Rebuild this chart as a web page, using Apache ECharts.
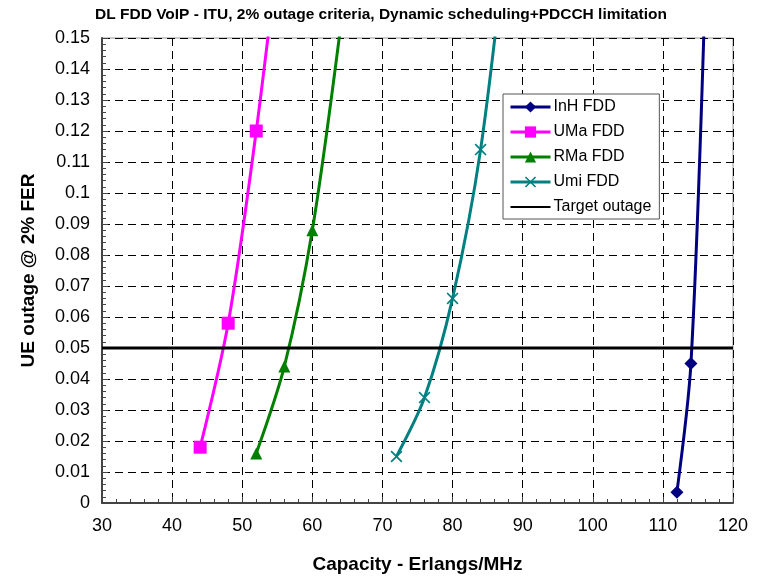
<!DOCTYPE html>
<html>
<head>
<meta charset="utf-8">
<script src="https://cdn.jsdelivr.net/npm/echarts@6/dist/echarts.min.js"></script>
<style>
  html, body { margin: 0; padding: 0; background: #fff; }
  #chart { width: 762px; height: 577px; }
</style>
</head>
<body>
<div id="chart"></div>
<script>
// values (last point of each curve sits above the 0.15 top and is clipped)
var inhX = [112, 114, 116];
var inhY = [0.0035, 0.045, 0.163];
var umaX = [44, 48, 52, 56];
var umaY = [0.018, 0.058, 0.12, 0.195];
var rmaX = [52, 56, 60, 64];
var rmaY = [0.016, 0.044, 0.088, 0.153];
var umiX = [72, 76, 80, 84, 88];
var umiY = [0.015, 0.034, 0.066, 0.114, 0.19];
var targetX = [30, 120];
var targetY = [0.05, 0.05];

function pairs(xs, ys) {
    return xs.map(function (x, i) { return [x, ys[i]]; });
}

var crossPath = 'path://M0,1L1,0L5,4L9,0L10,1L6,5L10,9L9,10L5,6L1,10L0,9L4,5Z';
var font = 'Arial, "Liberation Sans", sans-serif';

function curve(name, xs, ys, color, symbol, size) {
    return {
        name: name,
        type: 'line',
        data: pairs(xs, ys),
        smooth: 0.3,
        clip: true,
        symbol: symbol,
        symbolSize: size,
        showAllSymbol: true,
        lineStyle: { color: color, width: 3 },
        itemStyle: { color: color },
        emphasis: { disabled: true }
    };
}

var chart = echarts.init(document.getElementById('chart'));
var option = {
    animation: false,
    title: {
        text: 'DL FDD VoIP - ITU, 2% outage criteria, Dynamic scheduling+PDCCH limitation',
        left: 'center',
        top: 2,
        textStyle: { fontFamily: font, fontSize: 15.5, fontWeight: 'bold', color: '#000' }
    },
    legend: {
        orient: 'vertical',
        left: 503,
        top: 94,
        width: 160,
        padding: [5, 8, 4, 6],
        itemGap: 9,
        itemWidth: 40,
        itemHeight: 14,
        borderColor: '#555',
        borderWidth: 1,
        backgroundColor: '#fff',
        lineStyle: { width: 3 },
        textStyle: { fontFamily: font, fontSize: 16, color: '#000', padding: [0, 0, 0, -2] },
        data: ['InH FDD', 'UMa FDD', 'RMa FDD', 'Umi FDD',
            { name: 'Target outage', itemStyle: { opacity: 0 }, lineStyle: { width: 2 } }]
    },
    grid: {
        left: 102,
        right: 29,
        top: 38,
        bottom: 74,
        outerBoundsMode: 'none',
        show: true,
        borderColor: '#999',
        borderWidth: 1
    },
    xAxis: {
        type: 'value',
        min: 30,
        max: 120,
        interval: 10,
        name: 'Capacity - Erlangs/MHz',
        nameLocation: 'middle',
        nameGap: 52,
        nameTextStyle: { fontFamily: font, fontSize: 19, fontWeight: 'bold', color: '#000' },
        axisLine: { lineStyle: { color: '#444', width: 2 } },
        axisTick: { inside: true, length: 6, lineStyle: { color: '#444' } },
        minorTick: { show: true, splitNumber: 5, length: 4, lineStyle: { color: '#444' } },
        axisLabel: { fontFamily: font, fontSize: 18, color: '#000', margin: 14 },
        splitLine: { show: true, lineStyle: { color: '#000', type: [8, 5], width: 1 } }
    },
    yAxis: {
        type: 'value',
        min: 0,
        max: 0.15,
        interval: 0.01,
        name: 'UE outage @ 2% FER',
        nameLocation: 'middle',
        nameGap: 64,
        nameTextStyle: { fontFamily: font, fontSize: 19, fontWeight: 'bold', color: '#000' },
        axisLine: { show: true, lineStyle: { color: '#444', width: 2 } },
        axisTick: { show: true, inside: true, length: 6, lineStyle: { color: '#444' } },
        minorTick: { show: true, splitNumber: 5, length: 4, lineStyle: { color: '#444' } },
        axisLabel: { fontFamily: font, fontSize: 18, color: '#000', margin: 12 },
        splitLine: { show: true, lineStyle: { color: '#000', type: [8, 5], width: 1 } }
    },
    series: [
        curve('InH FDD', inhX, inhY, '#000080', 'diamond', 13),
        curve('UMa FDD', umaX, umaY, '#ff00ff', 'rect', 13),
        curve('RMa FDD', rmaX, rmaY, '#008000', 'triangle', 12),
        curve('Umi FDD', umiX, umiY, '#008080', crossPath, 12),
        {
            name: 'Target outage',
            type: 'line',
            data: pairs(targetX, targetY),
            symbol: 'none',
            lineStyle: { color: '#000', width: 3 },
            itemStyle: { color: '#000' },
            emphasis: { disabled: true }
        }
    ]
};
chart.setOption(option);
</script>
</body>
</html>
